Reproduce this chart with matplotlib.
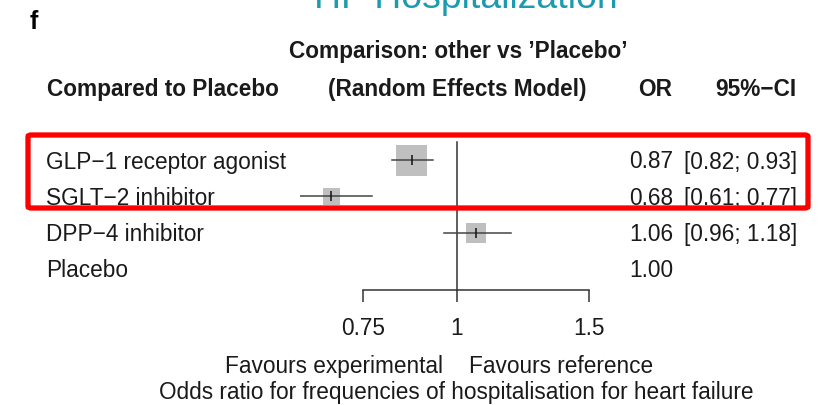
import matplotlib
matplotlib.use("Agg")
import matplotlib.pyplot as plt
from matplotlib.patches import FancyBboxPatch
import numpy as np

treatments = ["GLP\u22121 receptor agonist", "SGLT\u22122 inhibitor", "DPP\u22124 inhibitor", "Placebo"]
odds_ratio = [0.87, 0.68, 1.06, 1.00]
ci_low = [0.82, 0.61, 0.96, None]
ci_high = [0.93, 0.77, 1.18, None]
box_weight = [31, 17, 20, 0]          # relative box sizes (px side)
x_ticks = [0.75, 1, 1.5]
x_tick_labels = ["0.75", "1", "1.5"]

W, H = 818, 405
fig = plt.figure(figsize=(W / 100, H / 100), dpi=100)

def fx(px):
    return px / W

def fy(py):
    return 1 - py / H

FONT = "Liberation Sans"
TXT = "#1a1a1a"
FS = 16.3

# forest axes: x px 300..620, y px 130..290
ax_left, ax_right, ax_top, ax_bot = 300, 620, 130, 290
ax = fig.add_axes([fx(ax_left), fy(ax_bot), (ax_right - ax_left) / W, (ax_bot - ax_top) / H])
ppl = 326.0  # pixels per ln unit
x0 = 457.0
ax.set_xscale("log")
ax.set_xlim(np.exp((ax_left - x0) / ppl), np.exp((ax_right - x0) / ppl))
row_y0, row_dy = 160.0, 36.3
ax.set_ylim((ax_bot - row_y0) / row_dy, (ax_top - row_y0) / row_dy)
ax.patch.set_visible(False)
for s in ["top", "right", "left"]:
    ax.spines[s].set_visible(False)
ax.spines["bottom"].set_bounds(0.75, 1.5)
ax.spines["bottom"].set_color("#333333")
ax.spines["bottom"].set_linewidth(1.1)
ax.set_yticks([])
ax.set_xticks(x_ticks)
ax.set_xticklabels(x_tick_labels, fontsize=FS, family=FONT, color=TXT)
ax.xaxis.set_minor_locator(matplotlib.ticker.NullLocator())
ax.tick_params(axis="x", length=8.5, width=1.1, color="#333333", pad=11)

# vertical reference line
ax.plot([1, 1], [(142 - row_y0) / row_dy, (ax_bot - row_y0) / row_dy], color="#333333", lw=1.1, clip_on=False)

for i, (orv, lo, hi, w) in enumerate(zip(odds_ratio, ci_low, ci_high, box_weight)):
    if lo is None:
        continue
    side_pt = w * 72 / 100
    ax.scatter([orv], [i], s=side_pt ** 2, marker="s", color="#bfbfbf", edgecolors="none", zorder=2)
    ax.plot([lo, hi], [i, i], color="#444444", lw=1.1, zorder=3)
    ax.plot([orv], [i], marker="|", markersize=7, color="#111111", mew=1.1, zorder=4)

# texts
fig.text(fx(466), fy(8), "HF Hospitalization", fontsize=26.9, family=FONT, color="#1a9bb0",
         ha="center", va="baseline")
fig.text(fx(30), fy(29), "f", fontsize=18, family=FONT, weight="bold", color="black", ha="left", va="baseline")
fig.text(fx(458), fy(58), "Comparison: other vs \u2019Placebo\u2019", fontsize=FS, family=FONT,
         weight="bold", color=TXT, ha="center", va="baseline")
hdr_y = fy(96)
fig.text(fx(47), hdr_y, "Compared to Placebo", fontsize=FS, family=FONT, weight="bold", color=TXT, ha="left", va="baseline")
fig.text(fx(457), hdr_y, "(Random Effects Model)", fontsize=FS, family=FONT, weight="bold", color=TXT, ha="center", va="baseline")
fig.text(fx(672), hdr_y, "OR", fontsize=FS, family=FONT, weight="bold", color=TXT, ha="right", va="baseline")
fig.text(fx(796), hdr_y, "95%\u2212CI", fontsize=FS, family=FONT, weight="bold", color=TXT, ha="right", va="baseline")

for i, (name, orv, lo, hi) in enumerate(zip(treatments, odds_ratio, ci_low, ci_high)):
    yb = fy(row_y0 + row_dy * i + 8.5)
    fig.text(fx(46), yb, name, fontsize=FS, family=FONT, color=TXT, ha="left", va="baseline")
    fig.text(fx(673), yb, f"{orv:.2f}", fontsize=FS, family=FONT, color=TXT, ha="right", va="baseline")
    if lo is not None:
        fig.text(fx(797), yb, f"[{lo:.2f}; {hi:.2f}]", fontsize=FS, family=FONT, color=TXT, ha="right", va="baseline")

fig.text(fx(443), fy(373), "Favours experimental", fontsize=FS, family=FONT, color=TXT, ha="right", va="baseline")
fig.text(fx(469), fy(373), "Favours reference", fontsize=FS, family=FONT, color=TXT, ha="left", va="baseline")
fig.text(fx(456), fy(399), "Odds ratio for frequencies of hospitalisation for heart failure", fontsize=FS,
         family=FONT, color=TXT, ha="center", va="baseline")

# red highlight box
rect = FancyBboxPatch((fx(28), fy(208)), fx(808) - fx(28), fy(135) - fy(208),
                      boxstyle="round,pad=0,rounding_size=0.004", transform=fig.transFigure,
                      fill=False, edgecolor="#ff0000", lw=3.8, zorder=10)
fig.patches.append(rect)

fig.savefig("out.png", dpi=100)
